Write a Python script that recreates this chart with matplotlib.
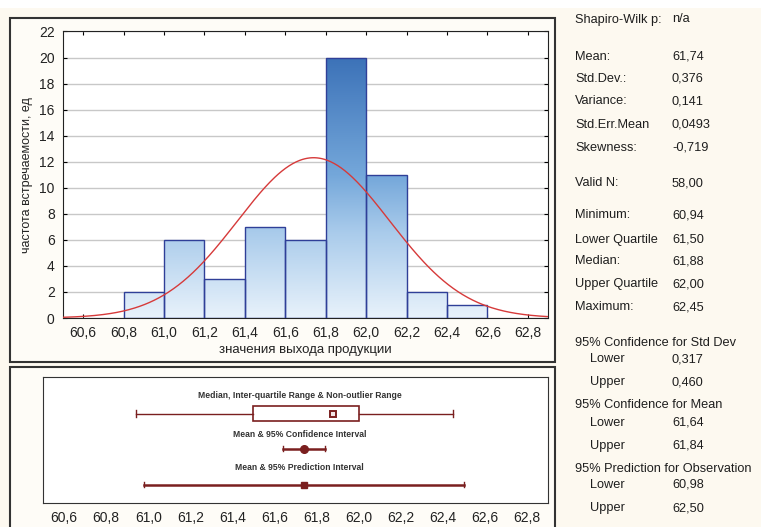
import numpy as np
import matplotlib
matplotlib.use("Agg")
import matplotlib.pyplot as plt
from matplotlib.patches import Rectangle
from matplotlib.colors import LinearSegmentedColormap

plt.rcParams['font.family'] = ['Liberation Sans', 'DejaVu Sans']

# гистограмма выхода продукции
bin_edges = [60.8, 61.0, 61.2, 61.4, 61.6, 61.8, 62.0, 62.2, 62.4, 62.6]
counts = [2, 6, 3, 7, 6, 20, 11, 2, 1]
x_ticks = [60.6, 60.8, 61.0, 61.2, 61.4, 61.6, 61.8, 62.0, 62.2, 62.4, 62.6, 62.8]
y_ticks = [0, 2, 4, 6, 8, 10, 12, 14, 16, 18, 20, 22]

# описательная статистика
mean_val = 61.74
std_val = 0.376
n_valid = 58
minimum = 60.94
lower_q = 61.50
median_val = 61.88
upper_q = 62.00
maximum = 62.45
ci_mean = (61.64, 61.84)
pred_int = (60.98, 62.50)

stats_rows = [
    ("Shapiro-Wilk p:", "n/a", 18, False),
    ("Mean:", "61,74", 55, False),
    ("Std.Dev.:", "0,376", 77, False),
    ("Variance:", "0,141", 100, False),
    ("Std.Err.Mean", "0,0493", 123, False),
    ("Skewness:", "-0,719", 146, False),
    ("Valid N:", "58,00", 182, False),
    ("Minimum:", "60,94", 214, False),
    ("Lower Quartile", "61,50", 238, False),
    ("Median:", "61,88", 260, False),
    ("Upper Quartile", "62,00", 283, False),
    ("Maximum:", "62,45", 306, False),
    ("95% Confidence for Std Dev", "", 342, False),
    ("Lower", "0,317", 358, True),
    ("Upper", "0,460", 381, True),
    ("95% Confidence for Mean", "", 404, False),
    ("Lower", "61,64", 421, True),
    ("Upper", "61,84", 444, True),
    ("95% Prediction for Observation", "", 467, False),
    ("Lower", "60,98", 483, True),
    ("Upper", "62,50", 507, True),
]

W, H = 761, 527
dark_red = "#7a1f1f"
fmt = lambda v: f"{v:.1f}".replace(".", ",")

fig = plt.figure(figsize=(W / 100, H / 100), dpi=100, facecolor="#fdf9f0")
fig.patches.append(Rectangle((0, 1 - 8 / H), 1, 8 / H, transform=fig.transFigure,
                             facecolor="white", edgecolor="none", zorder=-2))

# рамки панелей
for (x0, y0, x1, y1) in [(10, 18, 555, 362), (10, 367, 555, 540)]:
    fig.patches.append(Rectangle((x0 / W, 1 - y1 / H), (x1 - x0) / W, (y1 - y0) / H,
                                 transform=fig.transFigure, facecolor="#fefcf7",
                                 edgecolor="#333333", lw=1.5, zorder=-1))

# --- гистограмма ---
ax = fig.add_axes([63 / W, 1 - 318 / H, (548 - 63) / W, (318 - 31.5) / H])
ax.set_facecolor("white")
cmap = LinearSegmentedColormap.from_list(
    "bl", [(0.0, "#e8f2fb"), (0.3, "#a9cbeb"), (0.5, "#74a7da"), (0.91, "#3c72b8"), (1.0, "#366ab0")])
grad = np.linspace(0, 1, 256).reshape(-1, 1)
for i, c in enumerate(counts):
    x0, x1 = bin_edges[i], bin_edges[i + 1]
    rect = Rectangle((x0, 0), x1 - x0, c, facecolor="none", edgecolor="#2f3f98",
                     lw=1.0, zorder=3)
    ax.add_patch(rect)
    im = ax.imshow(grad[: int(256 * c / 22) + 1], cmap=cmap, vmin=0, vmax=1,
                   origin="lower", aspect="auto", extent=(x0, x1, 0, c), zorder=2)
    im.set_clip_path(rect)

xs = np.linspace(60.5, 62.9, 400)
bw = bin_edges[1] - bin_edges[0]
curve = n_valid * bw / (std_val * np.sqrt(2 * np.pi)) * np.exp(-0.5 * ((xs - mean_val) / std_val) ** 2)
ax.plot(xs, curve, color="#d63a3a", lw=1.0, zorder=4)

ax.set_xlim(60.5, 62.9)
ax.set_ylim(0, 22)
ax.set_xticks(x_ticks)
ax.set_xticklabels([fmt(v) for v in x_ticks])
ax.set_yticks(y_ticks)
ax.grid(axis="y", color="#c8c8c8", lw=1.0, zorder=1)
ax.tick_params(direction="in", top=True, right=True, length=3, labelsize=10,
               labelcolor="#222222", pad=6)
for s in ax.spines.values():
    s.set_color("#222222")
ax.set_ylabel("частота встречаемости, ед", fontsize=9, color="#222222", labelpad=4)
ax.set_xlabel("значения выхода продукции", fontsize=9.5, color="#222222", labelpad=3)

# --- диаграмма размаха ---
bx = fig.add_axes([43 / W, 1 - 503 / H, (548 - 43) / W, (503 - 377) / H])
bx.set_facecolor("white")
bx.set_xlim(60.5, 62.9)
bx.set_ylim(0, 10)
bx.set_xticks(x_ticks)
bx.set_xticklabels([fmt(v) for v in x_ticks])
bx.set_yticks([])
bx.tick_params(axis="x", length=0, labelsize=10, labelcolor="#222222", pad=6)
for s in bx.spines.values():
    s.set_color("#333333")

y_box, y_ci, y_pi = 7.1, 4.3, 1.45
small = dict(ha="center", va="center", fontsize=6.2, color="#333333", fontweight="bold")
bx.text(61.72, 8.55, "Median, Inter-quartile Range & Non-outlier Range", **small)
bx.plot([minimum, lower_q], [y_box, y_box], color=dark_red, lw=1)
bx.plot([upper_q, maximum], [y_box, y_box], color=dark_red, lw=1)
for v in (minimum, maximum):
    bx.plot([v, v], [y_box - 0.25, y_box + 0.25], color=dark_red, lw=1)
bx.add_patch(Rectangle((lower_q, y_box - 0.6), upper_q - lower_q, 1.2,
                       facecolor="white", edgecolor=dark_red, lw=1.2))
bx.plot(median_val, y_box, marker="s", ms=4, mfc="#f3e6e6", mec=dark_red, mew=1.4)

bx.text(61.72, 5.45, "Mean & 95% Confidence Interval", **small)
bx.plot(ci_mean, [y_ci, y_ci], color=dark_red, lw=1.8)
for v in ci_mean:
    bx.plot([v, v], [y_ci - 0.2, y_ci + 0.2], color=dark_red, lw=1)
bx.plot(mean_val, y_ci, marker="o", ms=5.5, color=dark_red)

bx.text(61.72, 2.85, "Mean & 95% Prediction Interval", **small)
bx.plot(pred_int, [y_pi, y_pi], color=dark_red, lw=1.8)
for v in pred_int:
    bx.plot([v, v], [y_pi - 0.2, y_pi + 0.2], color=dark_red, lw=1)
bx.plot(mean_val, y_pi, marker="s", ms=5, color=dark_red)

# --- таблица статистик ---
for label, value, ypix, indent in stats_rows:
    fig.text((590 if indent else 575) / W, 1 - ypix / H, label, fontsize=9.2,
             color="#1e1e1e", va="center_baseline", ha="left")
    if value:
        fig.text(672 / W, 1 - ypix / H, value, fontsize=9.2, color="#1e1e1e",
                 va="center_baseline", ha="left")

fig.savefig("out.png", dpi=100, facecolor=fig.get_facecolor())
